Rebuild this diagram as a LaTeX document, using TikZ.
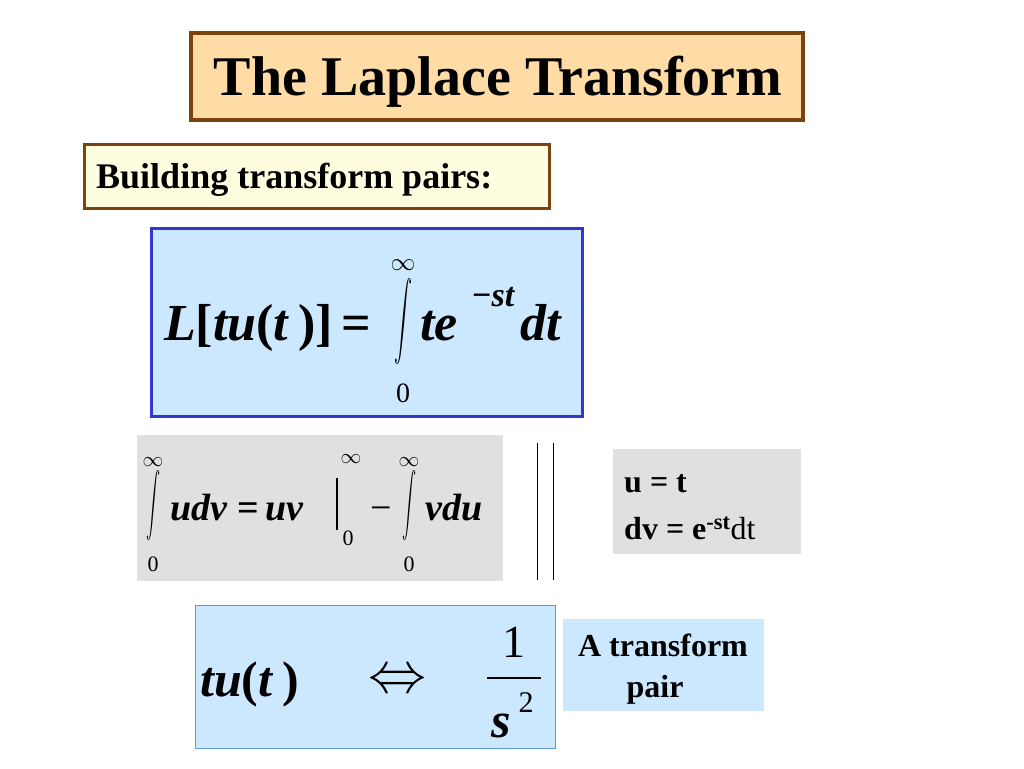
\documentclass[tikz,border=0pt]{standalone}
\usepackage{fontspec}
\usepackage{graphicx}
\setmainfont{Liberation Serif}
\definecolor{titlefill}{HTML}{FFDCA6}
\definecolor{brownb}{HTML}{7A4410}
\definecolor{lightblue}{HTML}{CCE8FF}
\definecolor{blueb}{HTML}{3535D0}
\definecolor{blueb2}{HTML}{5B9BDB}
\definecolor{grayf}{HTML}{E0E0E0}
\newcommand{\fs}[1]{\fontsize{#1}{#1}\selectfont}
\newcommand{\bi}{\bfseries\itshape}
\newcommand{\bigint}[2]{\resizebox*{#1}{#2}{$\displaystyle\int$}}
\begin{document}
\begin{tikzpicture}[x=1pt,y=-1pt,
  t/.style={inner sep=0pt,anchor=base west},
  c/.style={inner sep=0pt,anchor=base},
  m/.style={inner sep=0pt,anchor=center}]
\useasboundingbox (0,0) rectangle (1024,768);
\fill[white] (0,0) rectangle (1024,768);
% title
\draw[brownb,line width=4,fill=titlefill] (191,33) rectangle (803,120);
\node[c] (title) at (498,95) {\fs{56}\bfseries The Laplace Transform};
\draw[brownb,line width=3,fill=yellow!12] (84,144) rectangle (549,208);
\node[t] (build) at (96,188) {\fs{36}\bfseries Building transform pairs:};
% eq 1
\draw[blueb,line width=3,fill=lightblue] (151,228) rectangle (582,416);
\node[t] (lhs) at (164,340) {\fs{52}\bi L\textup{[}tu\textup{(}t\textup{\,)]\,=}};
\node[m] (int1) at (403,322) {\bigint{18pt}{86pt}};
\node[c] (inf1) at (403,270) {\fs{28}$\infty$};
\node[c] (z1) at (403,402) {\fs{28}0};
\node[t] (te) at (420,340) {\fs{52}\bi te};
\node[t] (st) at (472,306) {\fs{34}\bi \textup{−}st};
\node[t] (dt) at (520,340) {\fs{52}\bi dt};
% gray box
\fill[grayf] (137,435) rectangle (503,581);
\node[m] (int2) at (153,505) {\bigint{14pt}{70pt}};
\node[c] (inf2) at (153,466) {\fs{22}$\infty$};
\node[c] (z2) at (153,571) {\fs{22}0};
\node[t] (udv) at (170,520) {\fs{38}\bi udv \textup{=\,}uv};
\draw[line width=1.5] (337,478) -- (337,530);
\node[c] (inf3) at (351,463) {\fs{22}$\infty$};
\node[c] (z3) at (348,545) {\fs{22}0};
\node[t] (minus) at (370,520) {\fs{38}−};
\node[m] (int4) at (409,505) {\bigint{14pt}{70pt}};
\node[c] (inf4) at (409,466) {\fs{22}$\infty$};
\node[c] (z4) at (409,571) {\fs{22}0};
\node[t] (vdu) at (425,520) {\fs{38}\bi vdu};
\draw[line width=1] (537,443) -- (537,580);
\draw[line width=1] (553,443) -- (553,580);
\fill[grayf] (613,449) rectangle (801,554);
\node[t] (ut) at (624,492) {\fs{32}\bfseries u = t};
\node[t] (dv) at (624,539) {\fs{32}\bfseries dv = e\textsuperscript{-st}\mdseries dt};
% eq 3
\draw[blueb2,line width=1,fill=lightblue] (195,605) rectangle (555,748);
\node[t] (tut) at (200,696) {\fs{50}\bi tu\textup{(}t\textup{\,)}};
\node[m] (iff) at (397,682) {\resizebox{58pt}{!}{$\Leftrightarrow$}};
\node[c] (one) at (514,657) {\fs{46}1};
\draw[line width=1.5] (487,678) -- (541,678);
\node[c] (s) at (501,737) {\fs{50}\bi s};
\node[c] (two) at (526,712) {\fs{30}2};
\fill[lightblue] (563,619) rectangle (764,711);
\node[c] (atp) at (663,656) {\fs{32}\bfseries A transform};
\node[c] (pair) at (655,697) {\fs{32}\bfseries pair};
\end{tikzpicture}
\end{document}
